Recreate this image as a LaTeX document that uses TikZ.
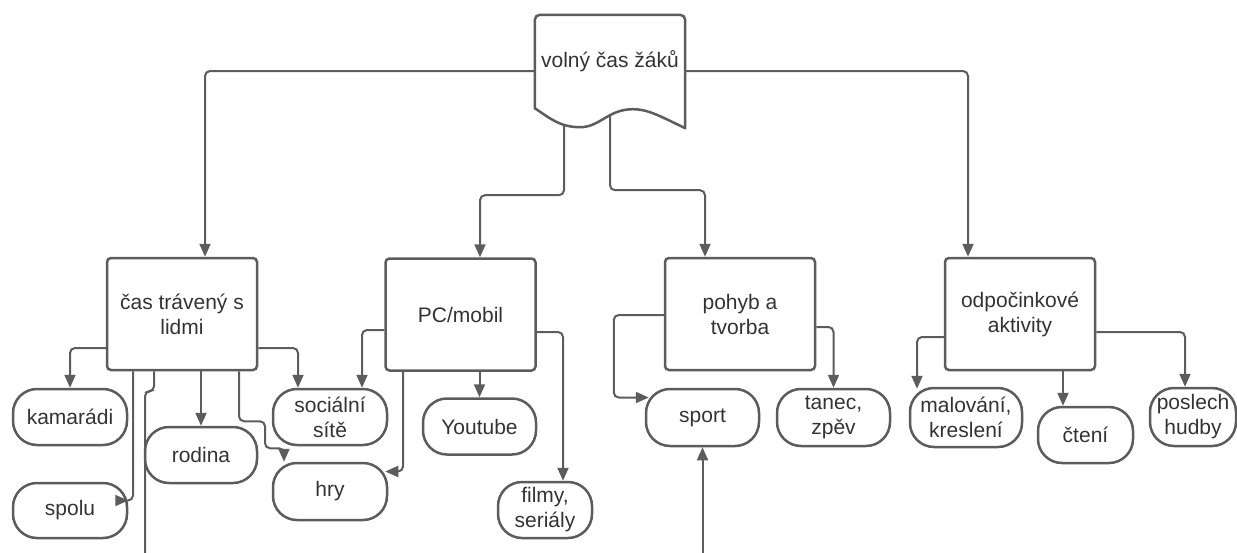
\documentclass[tikz,border=0pt]{standalone}
\usepackage{fontspec}
\setmainfont{Liberation Sans}
\usetikzlibrary{arrows.meta, calc, backgrounds}
\definecolor{linegray}{RGB}{92,92,92}
\definecolor{textgray}{RGB}{51,51,51}
\tikzset{
    my-text/.style={
        text=textgray, font=\fontsize{21}{25}\selectfont, align=center
    },
    my-topic/.style={
        my-text, draw=linegray, line width=2.5pt, rounded corners=4pt,
        minimum width=150pt, minimum height=112pt, inner sep=2pt
    },
    my-leaf/.style={
        my-text, draw=linegray, line width=2.5pt, rounded corners=24pt,
        minimum width=114pt, minimum height=56pt, inner sep=2pt
    },
    my-wire/.style={
        draw=linegray, line width=2pt, rounded corners=5pt
    },
    my-link/.style={
        my-wire, -{Triangle[length=13pt, width=11pt]}
    },
}

\begin{document}
\begin{tikzpicture}[x=1pt, y=-1pt]

        \useasboundingbox (0, 0) rectangle (1237, 552);

        % ROOT
        \node[my-text, minimum width=150pt, minimum height=93pt, inner sep=0pt] (ROOT) at (610, 61.5) {volný čas žáků};

        % TOPICS
        \node[my-topic] (CAS)   at (182, 314)   {čas trávený s\\lidmi};
        \node[my-topic] (PC)    at (460.5, 314.5) {PC/mobil};
        \node[my-topic] (POHYB) at (740, 314)   {pohyb a\\tvorba};
        \node[my-topic] (ODP)   at (1020, 314)  {odpočinkové\\aktivity};

        % LEAVES - CAS
        \node[my-leaf]                  (KAM)    at ($(CAS) + (-112, 103)$)   {kamarádi};
        \node[my-leaf, minimum height=55pt] (SPOLU) at ($(CAS) + (-112, 196.5)$) {spolu};
        \node[my-leaf, minimum width=112pt] (RODINA) at ($(CAS) + (19, 141)$) {rodina};
        \node[my-leaf]                  (SOC)    at ($(CAS) + (148, 103)$)    {sociální\\sítě};
        \node[my-leaf, minimum height=57pt] (HRY)   at ($(CAS) + (148, 177.5)$) {hry};

        % LEAVES - PC
        \node[my-leaf, minimum width=113pt] (YT)    at ($(PC) + (19, 112)$)      {Youtube};
        \node[my-leaf, minimum width=94pt]  (FILMY) at ($(PC) + (84.5, 195.5)$)  {filmy,\\seriály};

        % LEAVES - POHYB
        \node[my-leaf, minimum width=113pt, minimum height=57pt] (SPORT) at ($(POHYB) + (-37.5, 103.5)$) {sport};
        \node[my-leaf, minimum width=113pt, minimum height=57pt] (TANEC) at ($(POHYB) + (93.5, 103.5)$)  {tanec,\\zpěv};

        % LEAVES - ODP
        \node[my-leaf, minimum width=112pt, minimum height=59pt] (MAL)   at ($(ODP) + (-54, 103.5)$) {malování,\\kreslení};
        \node[my-leaf, minimum width=95pt]                       (CTENI) at ($(ODP) + (65.5, 121)$)  {čtení};
        \node[my-leaf, minimum width=86pt, minimum height=58pt]  (POSL)  at ($(ODP) + (173, 103)$)   {poslech\\hudby};

        % FREE ENDS AT THE BOTTOM EDGE
        \coordinate (CASOFF)   at ($(CAS.south) + (-37, 190)$);
        \coordinate (SPORTOFF) at ($(SPORT.south) + (0, 114)$);

        \begin{scope}[on background layer]

        % LINKS FROM ROOT
        \draw[my-link] ($(ROOT.west) + (0, 9.5)$)    -| ($(CAS.north) + (23, 0)$);
        \draw[my-link] ($(ROOT.east) + (0, 9.5)$)    -| ($(ODP.north) + (-52, 0)$);
        \draw[my-link] ($(ROOT.south) + (-46, 0)$) -- ++(0, 87) -| ($(PC.north) + (19.5, 0)$);
        \draw[my-link] (ROOT.south)                -- ++(0, 82) -| ($(POHYB.north) + (-35, 0)$);

        % LINKS FROM CAS
        \draw[my-link] ($(CAS.west) + (0, 34)$)   -| (KAM.north);
        \draw[my-link] ($(CAS.east) + (0, 34)$)   -| ($(SOC.north) + (-32, 0)$);
        \draw[my-link] ($(CAS.south) + (-49, 0)$) |- ($(SPOLU.east) + (0, -10)$);
        \draw[my-wire] ($(CAS.south) + (-28, 0)$) -- ++(0, 20) -| (CASOFF);
        \draw[my-link] (RODINA.north |- CAS.south) -- (RODINA.north);
        \draw[my-link] ($(CAS.south) + (57, 0)$)  -- ++(0, 50) -| ++(26, 27) -| ($(HRY.north) + (-46, 0)$);

        % LINKS FROM PC
        \draw[my-link] ($(PC.west) + (0, 15.5)$)    -| ($(SOC.north) + (32, 0)$);
        \draw[my-link] ($(PC.south) + (-57.5, 0)$)  |- ($(HRY.east) + (-3, -20)$);
        \draw[my-link] (YT.north |- PC.south)       -- (YT.north);
        \draw[my-link] ($(PC.east) + (0, 17.5)$)    -| ($(FILMY.north) + (18, 0)$);

        % LINKS FROM POHYB
        \draw[my-link] ($(POHYB.west) + (0, 1)$)  -| ($(SPORT.west) + (-31, -20)$) -- ($(SPORT.west) + (4, -20)$);
        \draw[my-link] ($(POHYB.east) + (0, 13)$) -| (TANEC.north);
        \draw[my-link] (SPORTOFF) -- (SPORT.south);

        % LINKS FROM ODP
        \draw[my-link] ($(ODP.west) + (0, 23)$)  -| ($(MAL.north) + (-49, 2)$);
        \draw[my-link] ($(ODP.south) + (43, 0)$) -- ($(CTENI.north) + (-22.5, 0)$);
        \draw[my-link] ($(ODP.east) + (0, 18)$)  -| ($(POSL.north) + (-8, 0)$);

        % DOCUMENT SHAPE AROUND ROOT
        \draw[draw=linegray, line width=2.5pt, line join=round, fill=white]
            (ROOT.south west) [rounded corners=5pt] -- (ROOT.north west) -- (ROOT.north east)
            [sharp corners] -- ($(ROOT.south east) + (0, 20)$)
            .. controls +(-25, -12) and +(15, 0) .. ($(ROOT.south) + (23, 1)$)
            .. controls +(-25, 0) and +(20, 0) .. ($(ROOT.south) + (-30, 19)$)
            .. controls +(-20, 0) and +(15, 10) .. (ROOT.south west) -- cycle;

        \end{scope}

    \end{tikzpicture}
\end{document}
